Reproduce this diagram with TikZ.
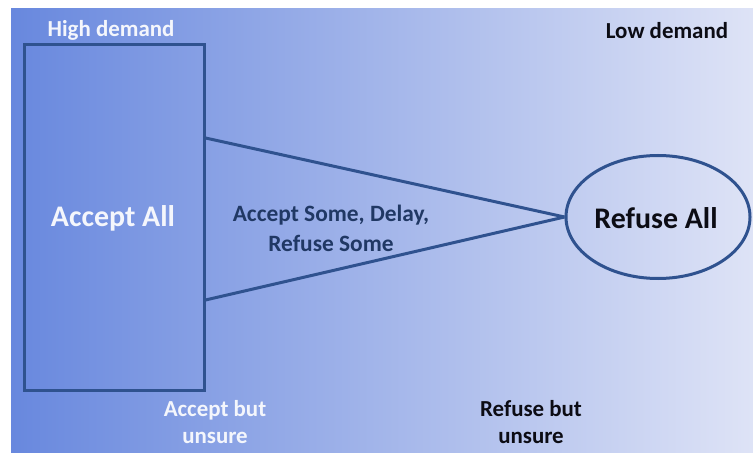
\documentclass[tikz,border=0pt]{standalone}
\usepackage{fontspec}
\setmainfont{Carlito}
\usetikzlibrary{shapes.geometric}
\definecolor{bgleft}{RGB}{104,136,222}
\definecolor{bgmid}{RGB}{190,201,238}
\definecolor{bgright}{RGB}{222,227,246}
\definecolor{edgeblue}{RGB}{47,82,143}
\definecolor{navytext}{RGB}{32,56,100}
\definecolor{whitetext}{RGB}{244,246,252}
\definecolor{darktext}{RGB}{12,12,20}
\tikzset{
  outline/.style={draw=edgeblue, line width=3bp},
  small label/.style={font=\bfseries\fontsize{23}{27}\selectfont, align=center, inner sep=0pt},
  mid label/.style={font=\bfseries\fontsize{23.5}{30}\selectfont, align=center, inner sep=0pt},
  big label/.style={font=\bfseries\fontsize{30}{34}\selectfont, inner sep=0pt},
}
\begin{document}
\begin{tikzpicture}[x=1bp, y=-1bp]
  \useasboundingbox (0,0) rectangle (753,453);
  % gradient backdrop
  \shade[left color=bgleft, middle color=bgmid, right color=bgright] (11,9) rectangle (753,453);

  % the two extremes
  \node[outline, rectangle, minimum width=179bp, minimum height=345bp, inner sep=0pt] (acc) at (114.5,217.5) {};
  \node[big label, text=whitetext] (acctext) at (113,218) {Accept All};
  \node[outline, ellipse, minimum width=184bp, minimum height=123bp, inner sep=0pt] (ref) at (658,217) {};
  \node[big label, text=darktext] (reftext) at (656,218) {Refuse All};

  % the funnel between them
  \draw[outline] ([yshift=79.5bp]acc.east) -- (ref.west);
  \draw[outline] ([yshift=-82.5bp]acc.east) -- (ref.west);
  \node[mid label, text=navytext] (mid) at (331,228) {Accept Some, Delay,\\Refuse Some};

  % corner labels
  \node[small label, text=whitetext] (high) at (111,30) {High demand};
  \node[small label, text=darktext] (low) at (667,31) {Low demand};
  \node[small label, text=whitetext] (accunsure) at (215,422) {Accept but\\unsure};
  \node[small label, text=darktext] (refunsure) at (531,422) {Refuse but\\unsure};
\end{tikzpicture}
\end{document}
